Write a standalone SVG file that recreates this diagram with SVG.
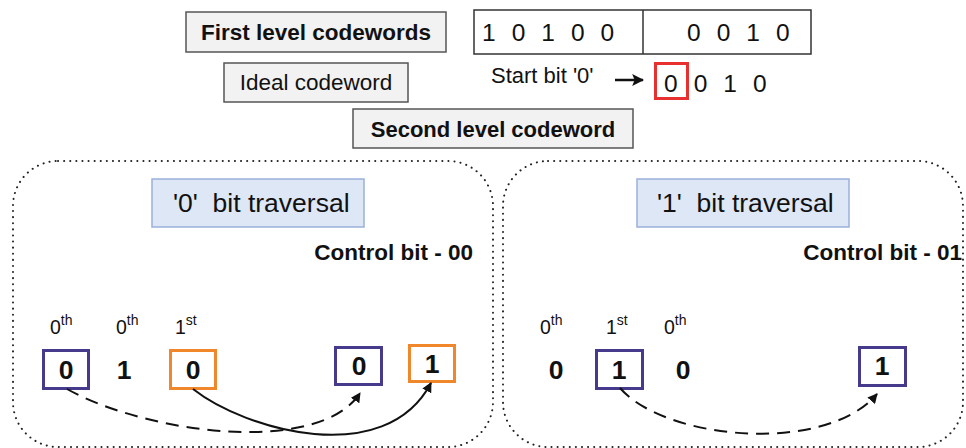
<svg xmlns="http://www.w3.org/2000/svg" width="966" height="448" viewBox="0 0 966 448">
<defs>
<style>
text{font-family:"Liberation Sans",Arial,sans-serif;fill:#111}
.gbox{fill:#f2f2f2;stroke:#555;stroke-width:1.5}
.bbox{fill:#dde7f5;stroke:#9ab0da;stroke-width:1.5}
.cont{fill:none;stroke:#222;stroke-width:2;stroke-linecap:round;stroke-dasharray:0.1 6}
.pbox{fill:#fff;stroke:#463a8c;stroke-width:3}
.obox{fill:#fff;stroke:#f0872a;stroke-width:3}
.bit{font-weight:bold;font-size:26.5px;text-anchor:middle}
.ord{font-size:19.5px}
.sup{font-size:14px}
.dash{fill:none;stroke:#111;stroke-width:2;stroke-dasharray:13 8}
.solid{fill:none;stroke:#111;stroke-width:2}
</style>
<marker id="ah" viewBox="0 0 10 10" refX="9" refY="5" markerWidth="10" markerHeight="10" markerUnits="userSpaceOnUse" orient="auto">
<path d="M0,0 L10,5 L0,10 Z" fill="#111"/>
</marker>
<marker id="ah2" viewBox="0 0 10 10" refX="9" refY="5" markerWidth="12" markerHeight="12" markerUnits="userSpaceOnUse" orient="auto">
<path d="M0,0 L10,5 L0,10 L2,5 Z" fill="#111"/>
</marker>
</defs>

<g id="first-level-label">
<rect class="gbox" x="186" y="12" width="260" height="40"/>
<text x="316" y="39.5" font-size="22.5" font-weight="bold" text-anchor="middle">First level codewords</text>
</g>
<g id="codeword-box">
<rect x="474" y="10" width="337" height="44" fill="#fff" stroke="#333" stroke-width="1.5"/>
<line x1="643" y1="10" x2="643" y2="54" stroke="#333" stroke-width="1.5"/>
<text x="482" y="41" font-size="24.5" letter-spacing="4.6">1 0 1 0 0</text>
<text x="687" y="41" font-size="24.5" letter-spacing="4.6">0 0 1 0</text>
</g>
<g id="ideal-label">
<rect class="gbox" x="224" y="63" width="184" height="39"/>
<text x="316" y="90" font-size="22.5" text-anchor="middle">Ideal codeword</text>
</g>
<g id="start-bit">
<text x="491" y="83" font-size="22">Start bit '0'</text>
<rect x="655.5" y="63.5" width="32" height="35" fill="none" stroke="#e8312f" stroke-width="3"/>
<text x="664" y="92" font-size="24.5" letter-spacing="4.6">0 0 1 0</text>
</g>
<g id="second-level-label">
<rect class="gbox" x="353" y="109" width="280" height="39"/>
<text x="493" y="137" font-size="22" font-weight="bold" text-anchor="middle">Second level codeword</text>
</g>

<g id="zero-traversal">
<rect class="cont" x="13" y="161" width="480" height="286" rx="45" ry="45"/>
<rect class="bbox" x="152" y="179" width="212" height="48"/>
<text x="173" y="212" font-size="26.5" xml:space="preserve">'0'  bit traversal</text>
<text x="473" y="260" font-size="22.5" font-weight="bold" text-anchor="end">Control bit - 00</text>
<text class="ord" x="50" y="334">0<tspan class="sup" dy="-9">th</tspan></text>
<text class="ord" x="116" y="334">0<tspan class="sup" dy="-9">th</tspan></text>
<text class="ord" x="175" y="334">1<tspan class="sup" dy="-9">st</tspan></text>
</g>
<g id="z-bit0">
<rect class="pbox" x="43.5" y="350.5" width="45" height="38"/>
<text class="bit" x="66" y="379">0</text>
</g>
<g id="z-bit1"><text class="bit" x="124" y="379">1</text></g>
<g id="z-bit2">
<rect class="obox" x="170.5" y="350.5" width="45" height="38"/>
<text class="bit" x="193" y="379">0</text>
</g>
<g id="z-out0">
<rect class="pbox" x="335.5" y="347.5" width="46" height="37"/>
<text class="bit" x="359" y="375">0</text>
</g>
<g id="z-out1">
<rect class="obox" x="409.5" y="345.5" width="45" height="36"/>
<text class="bit" x="432" y="373">1</text>
</g>

<g id="one-traversal">
<rect class="cont" x="503" y="161" width="460" height="286" rx="45" ry="45"/>
<rect class="bbox" x="637" y="179" width="212" height="48"/>
<text x="657" y="212" font-size="26.5" xml:space="preserve">'1'  bit traversal</text>
<text x="962" y="260" font-size="22.5" font-weight="bold" text-anchor="end">Control bit - 01</text>
<text class="ord" x="540" y="334">0<tspan class="sup" dy="-9">th</tspan></text>
<text class="ord" x="606" y="334">1<tspan class="sup" dy="-9">st</tspan></text>
<text class="ord" x="664" y="334">0<tspan class="sup" dy="-9">th</tspan></text>
</g>
<g id="o-bit0"><text class="bit" x="556" y="379">0</text></g>
<g id="o-bit1">
<rect class="pbox" x="596.5" y="350.5" width="46" height="38"/>
<text class="bit" x="619" y="379">1</text>
</g>
<g id="o-bit2"><text class="bit" x="683" y="379">0</text></g>
<g id="o-out1">
<rect class="pbox" x="859.5" y="347.5" width="46" height="38"/>
<text class="bit" x="882" y="375">1</text>
</g>

<g id="connectors">
<path d="M615,80 L643,80" fill="none" stroke="#111" stroke-width="2.5" marker-end="url(#ah2)"/>
<path class="dash" d="M67,389 C150,435 320,455 360,393" marker-end="url(#ah)"/>
<path class="solid" d="M193,389 C245,430 385,470 431,383" marker-end="url(#ah)"/>
<path class="dash" d="M620,388 C665,440 825,455 877,394" marker-end="url(#ah)"/>
</g>
</svg>
